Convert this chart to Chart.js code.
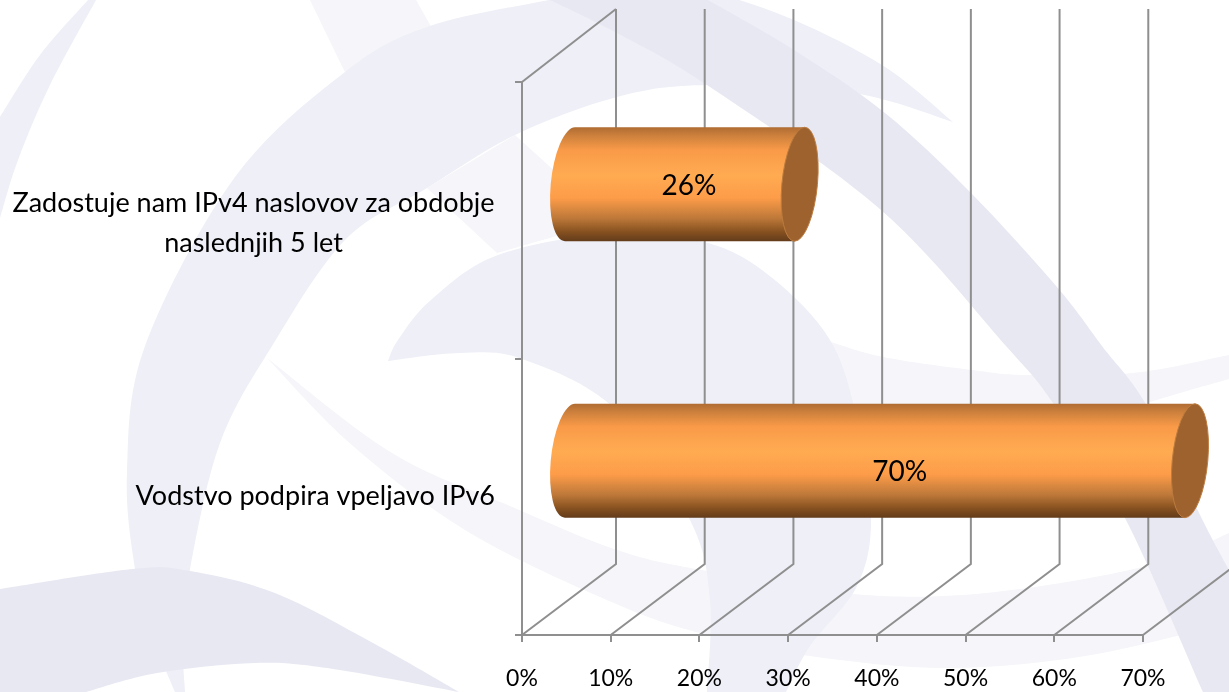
<!DOCTYPE html>
<html>
<head>
<meta charset="utf-8">
<style>
html,body{margin:0;padding:0;background:#fff;overflow:hidden}
#wrap{position:relative;width:1229px;height:692px}
#bg,#c{position:absolute;left:0;top:0}
</style>
<script src="https://cdn.jsdelivr.net/npm/chart.js@4/dist/chart.umd.min.js"></script>
</head>
<body>
<div id="wrap">
<svg id="bg" width="1229" height="692" viewBox="0 0 1229 692"></svg>
<canvas id="c" width="1229" height="692"></canvas>
</div>
<script>
const categories = ["Zadostuje nam IPv4 naslovov za obdobje|naslednjih 5 let", "Vodstvo podpira vpeljavo IPv6"];
const seriesValues = [26, 70];
const xTickValues = [0, 10, 20, 30, 40, 50, 60, 70];

// Decorative watermark behind the chart: each shape is a list of smooth edges
const C_LIGHT = '#f5f5fa', C_MID = '#eeeff7', C_DARK = '#e7e8f2';
const watermark = [
  [C_LIGHT, [[[310,0],[345,72]], [[345,72],[432,28]], [[432,28],[416,0]]]],
  [C_LIGHT, [[[515,135],[557,173]], [[557,173],[560,235]], [[560,235],[497,253]], [[497,253],[427,188]]]],
  [C_LIGHT, [[[267,358],[392,453],[510,506],[614,549],[696,569],[853,594],[986,593],[1147,566],[1229,533]],
             [[1229,623],[1085,656],[947,668],[810,656],[700,633],[614,603],[470,533],[353,446],[267,358]]]],
  [C_LIGHT, [[[825,340],[883,357],[972,370],[1027,375],[1133,373],[1229,355]],
             [[1229,379],[1147,403],[1000,450],[870,480]]]],
  [C_MID, [[[96,0],[50,85],[18,160],[0,218]], [[0,117],[40,55],[88,0]]]],
  [C_MID, [[[953,122],[885,67],[794,20],[708,-8],[630,-14],[549,0],[427,27],[345,72],[235,177],[145,346],[127,473],[135,569],[150,630],[175,692]],
           [[185,692],[183,640],[190,569],[220,443],[272,346],[345,240],[427,188],[515,135],[617,97],[707,85],[853,93],[953,122]]]],
  [C_MID, [[[388,361],[398,340],[431,300],[498,255],[615,233],[708,243],[771,277],[830,340],[857,420],[871,519],[857,586],[810,646],[786,692]],
           [[707,692],[710,600],[690,520],[615,409],[522,359],[459,353],[388,361]]]],
  [C_DARK, [[[708,0],[794,50],[885,113],[971,193],[1057,287],[1102,346],[1147,406],[1202,519],[1229,570]],
            [[1229,570],[1229,692]], [[1229,692],[1203,692]],
            [[1203,692],[1125,518],[1053,403],[1006,346],[881,210],[707,85],[617,33],[550,0]]]],
  [C_DARK, [[[0,589],[133,569],[190,571],[275,593],[373,643],[459,692]],
            [[459,692],[333,669],[255,663],[157,673],[86,692]], [[86,692],[0,692]]]]
];
function edgePath(p) {
  let d = '';
  for (let i = 0; i < p.length - 1; i++) {
    const a = p[Math.max(i - 1, 0)], b = p[i], c = p[i + 1], e = p[Math.min(i + 2, p.length - 1)];
    d += ' C' + (b[0] + (c[0] - a[0]) / 6) + ',' + (b[1] + (c[1] - a[1]) / 6) + ' ' +
         (c[0] - (e[0] - b[0]) / 6) + ',' + (c[1] - (e[1] - b[1]) / 6) + ' ' + c[0] + ',' + c[1];
  }
  return d;
}
(function () {
  let s = '<rect width="1229" height="692" fill="#fff"/>';
  watermark.forEach(([fill, edges]) => {
    let d = '';
    edges.forEach((e, i) => { d += (i ? ' L' : 'M') + e[0][0] + ',' + e[0][1] + edgePath(e); });
    s += '<path fill="' + fill + '" d="' + d + ' Z"/>';
  });
  document.getElementById('bg').innerHTML = s;
})();

const GRID = '#8f8f8f', DX = 94, DY = -71, FONT = 'Lato, "Open Sans", sans-serif';
const BAR_DX = 47, BAR_DY = -36;

class CylinderElement extends Chart.BarElement {
  draw(ctx) {
    const ry = this.height / 2, rx = 17.8, s = -0.0885;
    const cy = this.y + BAR_DY, x0 = this.base + BAR_DX, x1 = this.x + BAR_DX;
    const g = ctx.createLinearGradient(0, cy - ry, 0, cy + ry);
    g.addColorStop(0, '#b06c33');
    g.addColorStop(0.08, '#cf823d');
    g.addColorStop(0.2, '#f99a48');
    g.addColorStop(0.42, '#ffab52');
    g.addColorStop(0.62, '#fd9c49');
    g.addColorStop(0.8, '#bd7839');
    g.addColorStop(0.92, '#85501f');
    g.addColorStop(1, '#633c1b');
    ctx.save();
    const path = new Path2D();
    const m = new DOMMatrix([1, 0, s, 1, x0, cy]);
    const left = new Path2D();
    left.ellipse(0, 0, rx + 1.5, ry, 0, Math.PI / 2, Math.PI * 1.5);
    left.lineTo(x1 - x0, -ry);
    left.lineTo(x1 - x0, ry);
    left.closePath();
    path.addPath(left, m);
    ctx.fillStyle = g;
    ctx.fill(path);
    const cap = new Path2D();
    const capShape = new Path2D();
    capShape.ellipse(0, 0, rx, ry, 0, 0, Math.PI * 2);
    cap.addPath(capShape, new DOMMatrix([1, 0, s, 1, x1, cy]));
    ctx.fillStyle = '#9d622e';
    ctx.fill(cap);
    ctx.strokeStyle = '#bd7c3f';
    ctx.lineWidth = 1;
    ctx.stroke(cap);
    ctx.restore();
  }
}
CylinderElement.id = 'cylinder';
CylinderElement.defaults = Chart.BarElement.defaults;
CylinderElement.defaultRoutes = Chart.BarElement.defaultRoutes;

class CylinderController extends Chart.BarController {}
CylinderController.id = 'cylinderBar';
CylinderController.defaults = Object.assign({}, Chart.BarController.defaults, { dataElementType: 'cylinder' });
CylinderController.overrides = Chart.BarController.overrides;
Chart.register(CylinderElement, CylinderController);

const wallsPlugin = {
  id: 'walls',
  beforeDraw(chart) {
    // second line of the long label is centred under the first, the way the reference has it
    const items = chart.scales.y.getLabelItems();
    items.forEach(it => {
      if (Array.isArray(it.label) && it.label.length > 1 && !it._c) {
        it._c = true;
        it.options.textAlign = 'center';
        it.options.translation = [it.options.translation[0] - 241.5, it.options.translation[1] + 3];
      }
    });
  },
  beforeDatasetsDraw(chart) {
    const { ctx, scales: { x, y } } = chart;
    const top = y.top, bottom = y.bottom;
    ctx.save();
    ctx.strokeStyle = GRID;
    ctx.lineWidth = 2;
    xTickValues.forEach(v => {
      const px = x.getPixelForValue(v);
      ctx.beginPath();
      ctx.moveTo(px, bottom);
      ctx.lineTo(px + DX, bottom + DY);
      ctx.lineTo(px + DX, top + DY - 2);
      ctx.stroke();
    });
    ctx.beginPath();
    ctx.moveTo(x.getPixelForValue(0), top);
    ctx.lineTo(x.getPixelForValue(0) + DX, top + DY - 2);
    ctx.stroke();
    ctx.restore();
  },
  afterDatasetsDraw(chart) {
    const { ctx } = chart, meta = chart.getDatasetMeta(0);
    ctx.save();
    ctx.fillStyle = '#000';
    ctx.font = '28px ' + FONT;
    ctx.textAlign = 'center';
    ctx.textBaseline = 'middle';
    meta.data.forEach((el, i) => {
      const len = el.x - el.base;
      ctx.fillText(seriesValues[i] + '%', el.base + 42 + 0.54 * len, el.y - 40 + 0.0243 * len);
    });
    ctx.restore();
  }
};

new Chart(document.getElementById('c'), {
  type: 'cylinderBar',
  data: {
    labels: categories.map(c => c.split('|')),
    datasets: [{ data: seriesValues, backgroundColor: '#fb9b4a', barPercentage: 0.412, categoryPercentage: 1, clip: false }]
  },
  options: {
    indexAxis: 'y',
    responsive: false,
    animation: false,
    layout: { padding: { left: 0, right: 86, top: 82, bottom: 0 } },
    plugins: { legend: { display: false }, title: { display: false }, tooltip: { enabled: false } },
    scales: {
      x: {
        min: 0, max: 70,
        afterBuildTicks(s) { s.ticks = xTickValues.map(value => ({ value })); },
        afterFit(s) { s.height = 57; },
        grid: { drawOnChartArea: false, drawTicks: true, tickLength: 7, color: GRID, lineWidth: 2 },
        border: { color: GRID, width: 2 },
        ticks: { color: '#000', padding: 23, maxRotation: 0, autoSkip: false, font: { family: FONT, size: 23 }, callback: v => v + '%' }
      },
      y: {
        afterFit(s) { s.width = 522; s.paddingTop = 0; s.paddingBottom = 0; },
        grid: { drawOnChartArea: false, drawTicks: true, tickLength: 7, color: GRID, lineWidth: 2 },
        border: { color: GRID, width: 2 },
        ticks: { color: '#000', padding: 20, font: { family: FONT, size: 27, lineHeight: 1.45 } }
      }
    }
  },
  plugins: [wallsPlugin]
});
</script>
</body>
</html>
